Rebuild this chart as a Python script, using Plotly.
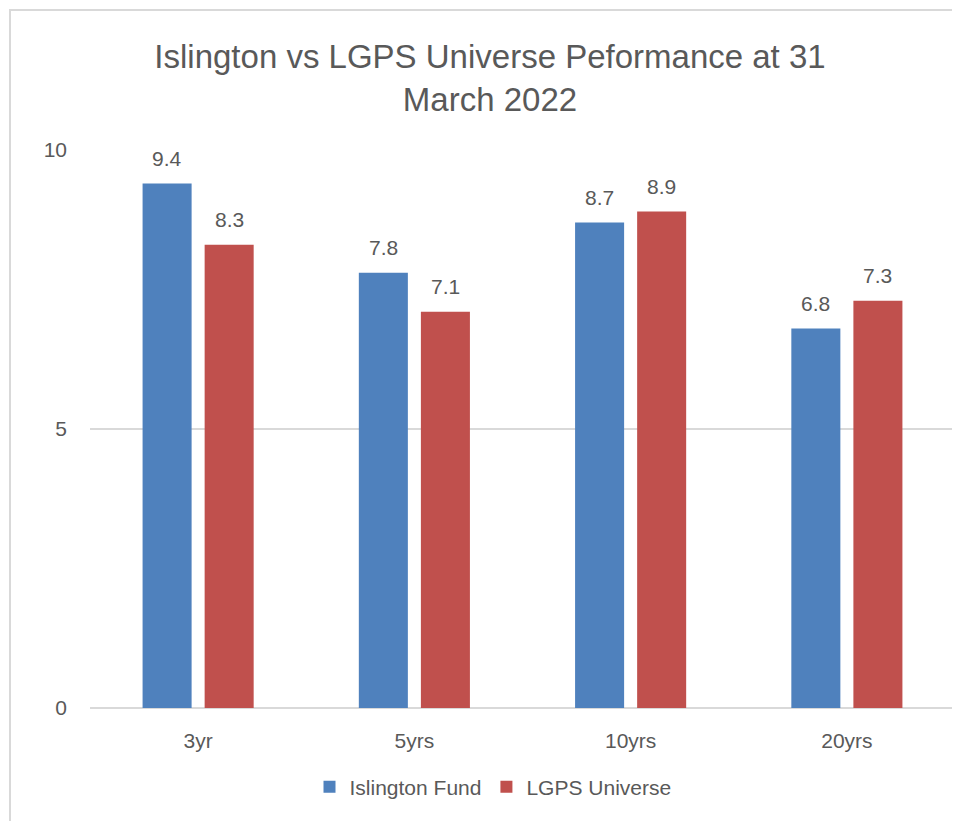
import plotly.graph_objects as go

categories = ["3yr", "5yrs", "10yrs", "20yrs"]
islington = [9.4, 7.8, 8.7, 6.8]
lgps = [8.3, 7.1, 8.9, 7.3]
series_names = ["Islington Fund", "LGPS Universe"]
colors = ["#4F81BD", "#C0504D"]

OFF = 8  # page body margin
W, H = 952, 813
ml, mr, mt, mb = 82, 5, 142, 113
pw, ph = W - ml - mr, H - mt - mb

def px_x(p):
    return (p - OFF - ml) / pw

def px_y(p):
    return (H - mb - (p - OFF)) / ph

font = "Liberation Sans"
grey = "#595959"

fig = go.Figure()
for name, vals, col in zip(series_names, [islington, lgps], colors):
    fig.add_trace(go.Bar(x=categories, y=vals, name=name, marker_color=col,
                         marker_line_width=0))

annotations = []
for shift, vals in [(-31, islington), (31, lgps)]:
    for c, v in zip(categories, vals):
        annotations.append(dict(x=c, y=v, text=f"{v:.1f}", showarrow=False,
                                xshift=shift, yshift=25, yanchor="middle",
                                font=dict(family=font, size=21, color=grey)))

fig.update_layout(
    width=W, height=H,
    margin=dict(l=ml, r=mr, t=mt, b=mb),
    paper_bgcolor="white", plot_bgcolor="white",
    barmode="group", bargap=0.426, bargroupgap=0.21,
    title=dict(text="Islington vs LGPS Universe Peformance at 31<br>March 2022",
               x=(490 - OFF) / W, xref="container", xanchor="center",
               y=1 - (68 - OFF) / H, yanchor="middle",
               font=dict(family=font, size=33, color=grey)),
    xaxis=dict(showgrid=False, showline=False, ticks="",
               tickfont=dict(family=font, size=21, color=grey),
               ticklabelstandoff=18),
    yaxis=dict(range=[0, 10], tickvals=[0, 5, 10], showgrid=True,
               gridcolor="#d9d9d9", gridwidth=1.5, zeroline=True,
               zerolinecolor="#d9d9d9", zerolinewidth=1.5, showline=False,
               ticks="", ticklen=0, tickfont=dict(family=font, size=21, color=grey),
               ticklabelstandoff=22),
    legend=dict(orientation="h", x=px_x(493), xanchor="center", y=px_y(787),
                yanchor="middle", font=dict(family=font, size=21, color=grey),
                itemwidth=30, traceorder="normal"),
    annotations=annotations,
    shapes=[dict(type="rect", xref="paper", yref="paper",
                 x0=px_x(10), y0=px_y(840), x1=px_x(980), y1=px_y(10),
                 line=dict(color="#d9d9d9", width=2), layer="below")],
)

fig.write_html("out.html")
